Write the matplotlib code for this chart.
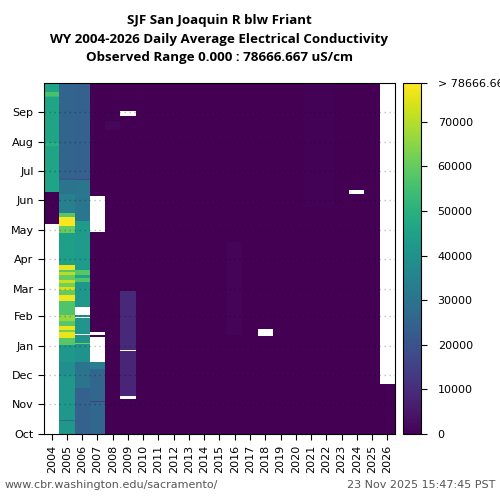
import numpy as np
import matplotlib
matplotlib.use("Agg")
import matplotlib.pyplot as plt

# ---------------- data ----------------
years = list(range(2004, 2027))
month_labels = ["Oct", "Nov", "Dec", "Jan", "Feb", "Mar", "Apr", "May", "Jun", "Jul", "Aug", "Sep"]
month_days = [31, 30, 31, 31, 28, 31, 30, 31, 30, 31, 31, 30]
cbar_ticks = [0, 10000, 20000, 30000, 40000, 50000, 60000, 70000]
vmax_obs = 78666.667
NA = np.nan
base = 300  # near-zero conductivity

# segments: (start day of water year, end day, value); NaN = missing
wy2004 = [(218, 252, base), (252, 300, 46000), (300, 303, 50000), (303, 350, 46000),
          (350, 352, 52000), (352, 356, 56000), (356, 365, 46000)]
wy2005 = [(0, 13, 42000), (13, 15, 27000), (15, 60, 42000), (60, 75, 39000), (75, 93, 42000),
          (93, 100, 58000), (100, 106, 76000), (106, 108, 62000), (108, 112, 76000),
          (112, 117, 58000), (117, 124, 66000), (124, 138, 57000), (138, 145, 77000),
          (145, 150, 60000), (150, 153, 74000), (153, 157, 62000), (157, 160, 72000),
          (160, 165, 60000), (165, 168, 70000), (168, 171, 58000), (171, 176, 76000),
          (176, 209, 44000), (209, 216, 60000), (216, 226, 78000), (226, 230, 58000),
          (230, 250, 34000), (250, 264, 30000), (264, 266, 22000), (266, 365, 25000)]
wy2006 = [(0, 48, 24000), (48, 75, 30000), (75, 94, 40000), (94, 95, 62000), (95, 103, 40000),
          (103, 104, NA), (104, 121, 41000), (121, 122, NA), (122, 124, 40000), (124, 132, NA),
          (132, 158, 42000), (158, 162, 57000), (162, 165, 46000), (165, 171, 58000),
          (171, 222, 43000), (222, 264, 31000), (264, 265, 18000), (265, 365, 24000)]
wy2007 = [(0, 33, 26000), (33, 34, 15000), (34, 68, 26000), (68, 75, 33000), (75, 101, NA),
          (101, 103, base), (103, 106, NA), (106, 210, base), (210, 247, NA), (247, 365, base)]
wy2008 = [(0, 316, base), (316, 325, 1500), (325, 365, base)]
wy2009 = [(0, 36, base), (36, 40, NA), (40, 86, 8000), (86, 87, NA), (87, 149, 9000),
          (149, 331, base), (331, 336, NA), (336, 365, base)]
wy2016 = [(0, 103, base), (103, 200, 800), (200, 365, base)]
wy2018 = [(0, 102, base), (102, 109, NA), (109, 365, base)]
wy2021 = [(0, 236, base), (236, 365, 600)]
wy2022 = [(0, 236, base), (236, 365, 600)]
wy2024 = [(0, 250, base), (250, 254, NA), (254, 365, base)]
wy2026 = [(0, 52, base)]
wy_default = [(0, 365, base)]

special = {2004: wy2004, 2005: wy2005, 2006: wy2006, 2007: wy2007, 2008: wy2008,
           2009: wy2009, 2016: wy2016, 2018: wy2018, 2021: wy2021, 2022: wy2022,
           2024: wy2024, 2026: wy2026}

grid = np.full((365, len(years)), np.nan)
for j, yr in enumerate(years):
    for s, e, v in special.get(yr, wy_default):
        grid[s:e, j] = v

# ---------------- figure ----------------
fig = plt.figure(figsize=(5, 5), dpi=100)
ax = fig.add_axes([0.088, 0.132, 0.702, 0.702])
cax = fig.add_axes([0.806, 0.132, 0.036, 0.702])

xedges = np.arange(len(years) + 1) - 0.5
yedges = np.arange(366)
mesh = ax.pcolormesh(xedges, yedges, np.ma.masked_invalid(grid), cmap="viridis",
                     vmin=0, vmax=vmax_obs, shading="flat")
ax.set_xlim(-0.5, len(years) - 0.5)
ax.set_ylim(0, 365)

ax.set_xticks(np.arange(len(years)))
ax.set_xticklabels([str(y) for y in years], rotation=90, fontsize=8)
starts = np.concatenate([[0], np.cumsum(month_days)[:-1]])
ax.set_yticks(starts)
ax.set_yticklabels(month_labels, fontsize=8)
ax.tick_params(direction="out", length=4)
for s in starts[1:]:
    ax.axhline(s, color="black", alpha=0.25, linestyle=(0, (1, 2.6)), linewidth=1)

cb = fig.colorbar(mesh, cax=cax)
cb.set_ticks(cbar_ticks + [vmax_obs])
cb.set_ticklabels([str(t) for t in cbar_ticks] + ["> 78666.667"])
cb.ax.tick_params(labelsize=8, length=4, pad=8)

fig.text(0.439, 0.972, "SJF San Joaquin R blw Friant\nWY 2004-2026 Daily Average Electrical Conductivity\nObserved Range 0.000 : 78666.667 uS/cm",
         ha="center", va="top", fontsize=9.6, fontweight="bold", family="Open Sans", linespacing=1.55)
fig.text(0.01, 0.03, "www.cbr.washington.edu/sacramento/", ha="left", va="center", fontsize=8, color="#555555")
fig.text(0.99, 0.03, "23 Nov 2025 15:47:45 PST", ha="right", va="center", fontsize=8, color="#555555")

fig.savefig("out.png", dpi=100)
